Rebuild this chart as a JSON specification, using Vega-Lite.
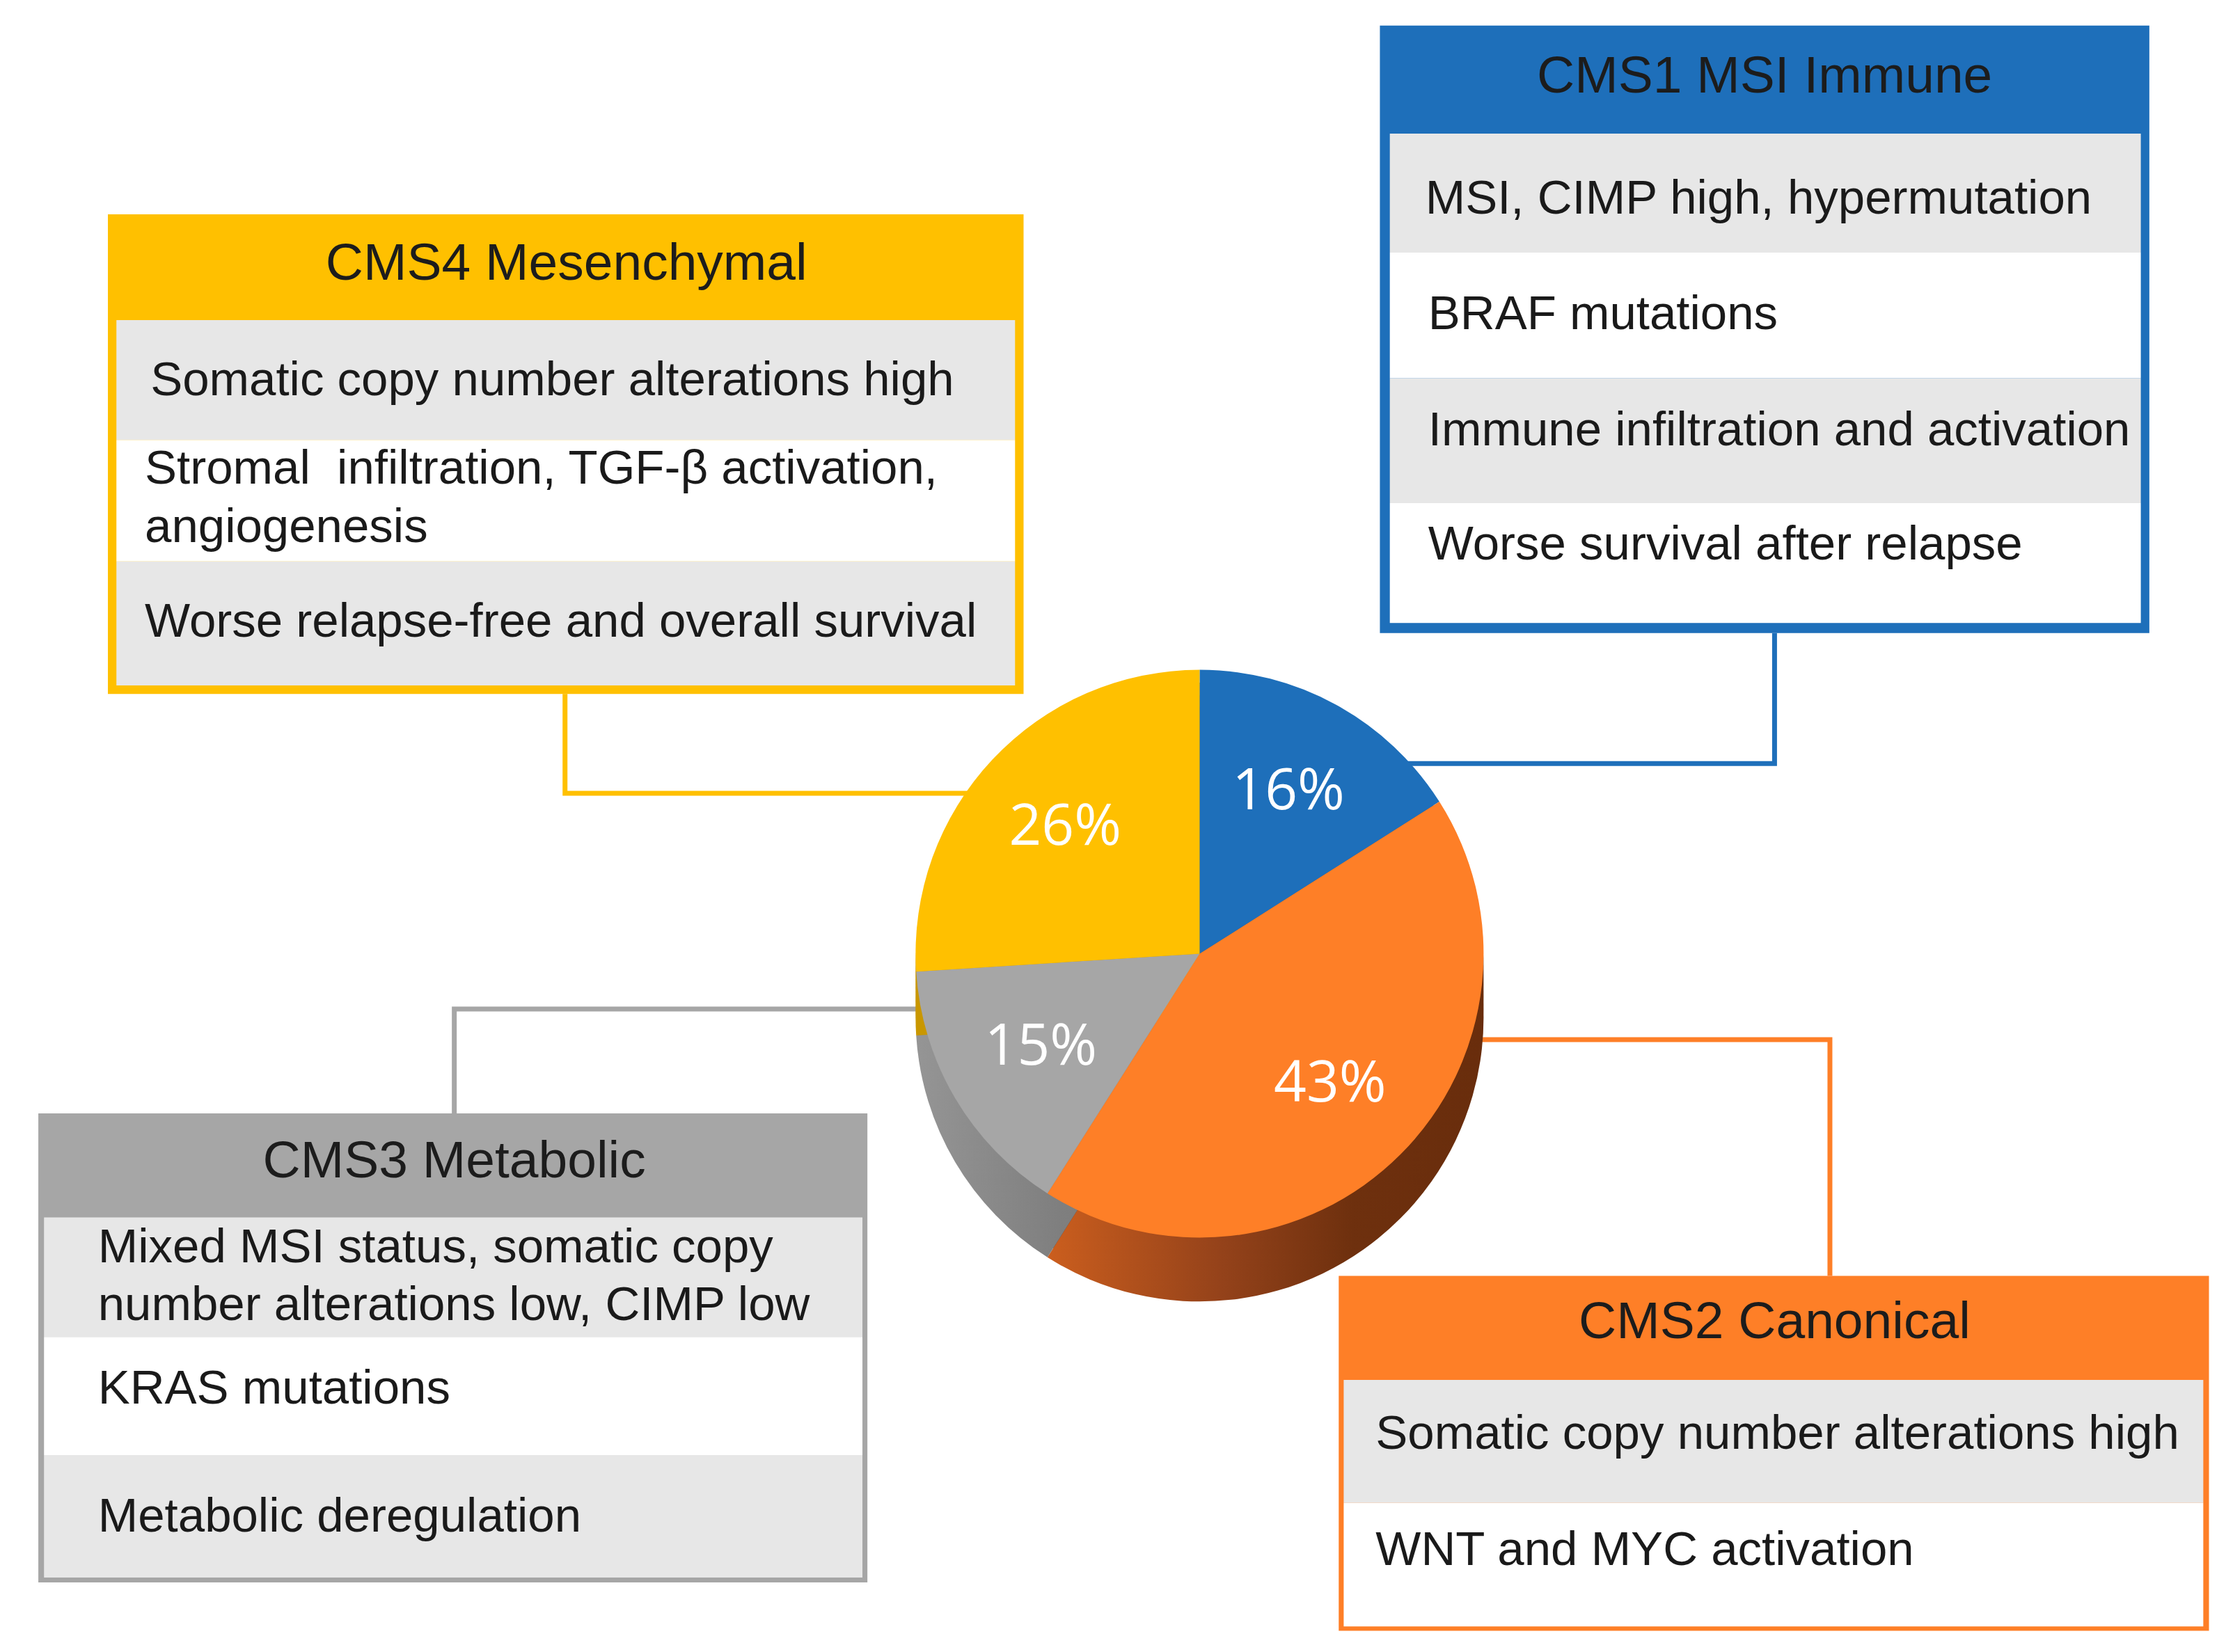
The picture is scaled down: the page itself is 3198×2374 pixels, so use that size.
{
  "$schema": "https://vega.github.io/schema/vega-lite/v6.json",
  "width": 3198,
  "height": 2374,
  "autosize": {"type": "fit", "contains": "padding"},
  "padding": 0,
  "background": "#ffffff",
  "config": {"view": {"stroke": null}},
  "datasets": {
    "frames": [
      {"cms": "CMS4", "x1": 76, "x2": 721, "y1": 151, "y2": 489},
      {"cms": "CMS1", "x1": 972, "x2": 1514, "y1": 18, "y2": 446},
      {"cms": "CMS3", "x1": 27, "x2": 611, "y1": 784.5, "y2": 1115},
      {"cms": "CMS2", "x1": 943, "x2": 1556, "y1": 899, "y2": 1149}
    ],
    "rows": [
      {"cms": "CMS4", "shade": "grey", "x1": 82, "x2": 715, "y1": 225.5, "y2": 310},
      {"cms": "CMS4", "shade": "white", "x1": 82, "x2": 715, "y1": 310, "y2": 395.5},
      {"cms": "CMS4", "shade": "grey", "x1": 82, "x2": 715, "y1": 395.5, "y2": 483},
      {"cms": "CMS1", "shade": "grey", "x1": 979, "x2": 1508, "y1": 94.2, "y2": 178},
      {"cms": "CMS1", "shade": "white", "x1": 979, "x2": 1508, "y1": 178, "y2": 266.5},
      {"cms": "CMS1", "shade": "grey", "x1": 979, "x2": 1508, "y1": 266.5, "y2": 354.5},
      {"cms": "CMS1", "shade": "white", "x1": 979, "x2": 1508, "y1": 354.5, "y2": 439},
      {"cms": "CMS3", "shade": "grey", "x1": 31, "x2": 607.5, "y1": 857.8, "y2": 942},
      {"cms": "CMS3", "shade": "white", "x1": 31, "x2": 607.5, "y1": 942, "y2": 1025.3},
      {"cms": "CMS3", "shade": "grey", "x1": 31, "x2": 607.5, "y1": 1025.3, "y2": 1111.5},
      {"cms": "CMS2", "shade": "grey", "x1": 946.5, "x2": 1552, "y1": 972.3, "y2": 1059},
      {"cms": "CMS2", "shade": "white", "x1": 946.5, "x2": 1552, "y1": 1059, "y2": 1146}
    ],
    "links": [
      {"cms": "CMS4", "step": 1, "x": 398, "y": 489},
      {"cms": "CMS4", "step": 2, "x": 398, "y": 559},
      {"cms": "CMS4", "step": 3, "x": 700, "y": 559},
      {"cms": "CMS1", "step": 1, "x": 1250, "y": 446},
      {"cms": "CMS1", "step": 2, "x": 1250, "y": 538},
      {"cms": "CMS1", "step": 3, "x": 975, "y": 538},
      {"cms": "CMS3", "step": 1, "x": 320, "y": 785},
      {"cms": "CMS3", "step": 2, "x": 320, "y": 711},
      {"cms": "CMS3", "step": 3, "x": 665, "y": 711},
      {"cms": "CMS2", "step": 1, "x": 1289, "y": 899},
      {"cms": "CMS2", "step": 2, "x": 1289, "y": 732.5},
      {"cms": "CMS2", "step": 3, "x": 1020, "y": 732.5}
    ],
    "slices": [
      {"cms": "CMS1", "pct": 16, "label": "16%", "ord": 1},
      {"cms": "CMS2", "pct": 43, "label": "43%", "ord": 2},
      {"cms": "CMS3", "pct": 15, "label": "15%", "ord": 3},
      {"cms": "CMS4", "pct": 26, "label": "26%", "ord": 4}
    ],
    "headers": [
      {"cms": "CMS4", "x": 399, "y": 197, "text": "CMS4 Mesenchymal"},
      {"cms": "CMS1", "x": 1243, "y": 65, "text": "CMS1 MSI Immune"},
      {"cms": "CMS3", "x": 320, "y": 829.5, "text": "CMS3 Metabolic"},
      {"cms": "CMS2", "x": 1250, "y": 943, "text": "CMS2 Canonical"}
    ],
    "lines": [
      {"cms": "CMS4", "x": 106, "y": 278.5, "text": "Somatic copy number alterations high"},
      {"cms": "CMS4", "x": 102, "y": 341, "text": "Stromal\u00a0 infiltration, TGF-β activation,"},
      {"cms": "CMS4", "x": 102, "y": 382, "text": "angiogenesis"},
      {"cms": "CMS4", "x": 102, "y": 448.5, "text": "Worse relapse-free and overall survival"},
      {"cms": "CMS1", "x": 1004, "y": 150.5, "text": "MSI, CIMP high, hypermutation"},
      {"cms": "CMS1", "x": 1006, "y": 232, "text": "BRAF mutations"},
      {"cms": "CMS1", "x": 1006, "y": 314, "text": "Immune infiltration and activation"},
      {"cms": "CMS1", "x": 1006, "y": 394, "text": "Worse survival after relapse"},
      {"cms": "CMS3", "x": 69, "y": 889.5, "text": "Mixed MSI status, somatic copy"},
      {"cms": "CMS3", "x": 69, "y": 930, "text": "number alterations low, CIMP low"},
      {"cms": "CMS3", "x": 69, "y": 989, "text": "KRAS mutations"},
      {"cms": "CMS3", "x": 69, "y": 1079, "text": "Metabolic deregulation"},
      {"cms": "CMS2", "x": 969, "y": 1021, "text": "Somatic copy number alterations high"},
      {"cms": "CMS2", "x": 969, "y": 1102.7, "text": "WNT and MYC activation"}
    ]
  },
  "layer": [
    {
      "data": {"name": "links"},
      "mark": {"type": "line", "strokeWidth": 7, "strokeCap": "butt", "strokeJoin": "miter"},
      "encoding": {
        "x": {"field": "x", "type": "quantitative", "scale": {"domain": [0, 1568], "nice": false, "zero": false}, "axis": null},
        "y": {"field": "y", "type": "quantitative", "scale": {"domain": [0, 1164], "nice": false, "zero": false, "reverse": true}, "axis": null},
        "color": {"field": "cms", "type": "nominal", "scale": {"domain": ["CMS1", "CMS2", "CMS3", "CMS4"], "range": ["#1e6fba", "#fe7f27", "#a6a6a6", "#ffc000"]}, "legend": null},
        "detail": {"field": "cms"},
        "order": {"field": "step", "type": "quantitative"}
      }
    },
    {
      "data": {"name": "frames"},
      "mark": {"type": "rect"},
      "encoding": {
        "x": {"field": "x1", "type": "quantitative", "scale": {"domain": [0, 1568], "nice": false, "zero": false}, "axis": null},
        "x2": {"field": "x2"},
        "y": {"field": "y1", "type": "quantitative", "scale": {"domain": [0, 1164], "nice": false, "zero": false, "reverse": true}, "axis": null},
        "y2": {"field": "y2"},
        "color": {"field": "cms", "type": "nominal", "scale": {"domain": ["CMS1", "CMS2", "CMS3", "CMS4"], "range": ["#1e6fba", "#fe7f27", "#a6a6a6", "#ffc000"]}, "legend": null}
      }
    },
    {
      "data": {"name": "rows"},
      "transform": [{"filter": "datum.shade === 'grey'"}],
      "mark": {"type": "rect", "color": "#e7e7e7"},
      "encoding": {
        "x": {"field": "x1", "type": "quantitative", "axis": null},
        "x2": {"field": "x2"},
        "y": {"field": "y1", "type": "quantitative", "axis": null},
        "y2": {"field": "y2"}
      }
    },
    {
      "data": {"name": "rows"},
      "transform": [{"filter": "datum.shade === 'white'"}],
      "mark": {"type": "rect", "color": "#ffffff"},
      "encoding": {
        "x": {"field": "x1", "type": "quantitative", "axis": null},
        "x2": {"field": "x2"},
        "y": {"field": "y1", "type": "quantitative", "axis": null},
        "y2": {"field": "y2"}
      }
    },
    {
      "data": {"name": "headers"},
      "mark": {"type": "text", "align": "center", "baseline": "alphabetic", "font": "Arial, 'Liberation Sans', Helvetica, sans-serif", "fontSize": 75, "color": "#1c1c1c"},
      "encoding": {
        "x": {"field": "x", "type": "quantitative", "axis": null},
        "y": {"field": "y", "type": "quantitative", "axis": null},
        "text": {"field": "text"}
      }
    },
    {
      "data": {"name": "lines"},
      "mark": {"type": "text", "align": "left", "baseline": "alphabetic", "font": "Arial, 'Liberation Sans', Helvetica, sans-serif", "fontSize": 69, "color": "#1a1a1a"},
      "encoding": {
        "x": {"field": "x", "type": "quantitative", "axis": null},
        "y": {"field": "y", "type": "quantitative", "axis": null},
        "text": {"field": "text"}
      }
    },
    {
      "data": {"name": "slices"},
      "mark": {"type": "arc", "outerRadius": 408},
      "encoding": {
        "x": {"datum": 845, "type": "quantitative", "axis": null},
        "y": {"datum": 681, "type": "quantitative", "axis": null},
        "theta": {"field": "pct", "type": "quantitative", "stack": true},
        "order": {"field": "ord", "type": "quantitative"},
        "detail": {"field": "cms"},
        "fill": {"field": "cms", "type": "nominal", "scale": {"domain": ["CMS1", "CMS2", "CMS3", "CMS4"], "range": ["#17528c", "#6a2e0c", "#8c8c8c", "#c99700"]}, "legend": null}
      }
    },
    {
      "data": {"name": "slices"},
      "mark": {"type": "arc", "outerRadius": 408},
      "encoding": {
        "x": {"datum": 845, "type": "quantitative", "axis": null},
        "y": {"datum": 690, "type": "quantitative", "axis": null},
        "theta": {"field": "pct", "type": "quantitative", "stack": true},
        "order": {"field": "ord", "type": "quantitative"},
        "detail": {"field": "cms"},
        "fill": {"field": "cms", "type": "nominal", "scale": {"domain": ["CMS1", "CMS2", "CMS3", "CMS4"], "range": ["#17528c", "#6a2e0c", "#8c8c8c", "#c99700"]}, "legend": null}
      }
    },
    {
      "data": {"name": "slices"},
      "mark": {"type": "arc", "outerRadius": 408},
      "encoding": {
        "x": {"datum": 845, "type": "quantitative", "axis": null},
        "y": {"datum": 699, "type": "quantitative", "axis": null},
        "theta": {"field": "pct", "type": "quantitative", "stack": true},
        "order": {"field": "ord", "type": "quantitative"},
        "detail": {"field": "cms"},
        "fill": {"field": "cms", "type": "nominal", "scale": {"domain": ["CMS1", "CMS2", "CMS3", "CMS4"], "range": ["#17528c", "#6a2e0c", "#8c8c8c", "#c99700"]}, "legend": null}
      }
    },
    {
      "data": {"name": "slices"},
      "mark": {"type": "arc", "outerRadius": 408},
      "encoding": {
        "x": {"datum": 845, "type": "quantitative", "axis": null},
        "y": {"datum": 708, "type": "quantitative", "axis": null},
        "theta": {"field": "pct", "type": "quantitative", "stack": true},
        "order": {"field": "ord", "type": "quantitative"},
        "detail": {"field": "cms"},
        "fill": {"field": "cms", "type": "nominal", "scale": {"domain": ["CMS1", "CMS2", "CMS3", "CMS4"], "range": ["#17528c", "#6a2e0c", "#8c8c8c", "#c99700"]}, "legend": null}
      }
    },
    {
      "data": {"name": "slices"},
      "mark": {"type": "arc", "outerRadius": 408},
      "encoding": {
        "x": {"datum": 845, "type": "quantitative", "axis": null},
        "y": {"datum": 717, "type": "quantitative", "axis": null},
        "theta": {"field": "pct", "type": "quantitative", "stack": true},
        "order": {"field": "ord", "type": "quantitative"},
        "detail": {"field": "cms"},
        "fill": {
          "field": "cms", "type": "nominal",
          "scale": {"domain": ["CMS1", "CMS2", "CMS3", "CMS4"], "range": ["#17528c", "#6a2e0c", "#8c8c8c", "#c99700"]},
          "legend": null,
          "condition": [
            {"test": "datum.cms === 'CMS2'", "value": {"gradient": "linear", "x1": 0, "y1": 0, "x2": 1, "y2": 0, "stops": [{"offset": 0, "color": "#cb5e1e"}, {"offset": 0.4, "color": "#94421a"}, {"offset": 0.7, "color": "#6e300e"}, {"offset": 1, "color": "#692d0c"}]}},
            {"test": "datum.cms === 'CMS3'", "value": {"gradient": "linear", "x1": 0, "y1": 0, "x2": 1, "y2": 0, "stops": [{"offset": 0, "color": "#959595"}, {"offset": 0.5, "color": "#7f7f7f"}, {"offset": 1, "color": "#787878"}]}}
          ]
        }
      }
    },
    {
      "data": {"name": "slices"},
      "mark": {"type": "arc", "outerRadius": 408},
      "encoding": {
        "x": {"datum": 845, "type": "quantitative", "axis": null},
        "y": {"datum": 672, "type": "quantitative", "axis": null},
        "theta": {"field": "pct", "type": "quantitative", "stack": true},
        "order": {"field": "ord", "type": "quantitative"},
        "detail": {"field": "cms"},
        "color": {"field": "cms", "type": "nominal", "scale": {"domain": ["CMS1", "CMS2", "CMS3", "CMS4"], "range": ["#1e6fba", "#fe7f27", "#a6a6a6", "#ffc000"]}, "legend": null}
      }
    },
    {
      "data": {"name": "slices"},
      "mark": {"type": "text", "radius": 265, "font": "Open Sans", "fontSize": 82, "color": "#ffffff", "align": "center", "baseline": "middle"},
      "encoding": {
        "x": {"datum": 845, "type": "quantitative", "axis": null},
        "y": {"datum": 672, "type": "quantitative", "axis": null},
        "theta": {"field": "pct", "type": "quantitative", "stack": true},
        "order": {"field": "ord", "type": "quantitative"},
        "detail": {"field": "cms"},
        "text": {"field": "label"}
      }
    }
  ]
}
